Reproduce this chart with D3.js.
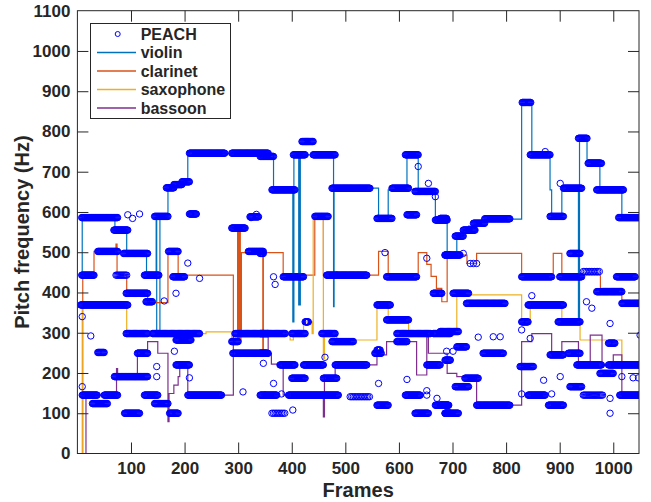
<!DOCTYPE html>
<html><head><meta charset="utf-8">
<script src="https://cdn.jsdelivr.net/npm/d3@7"></script>
<style>
body{margin:0;background:#fff}
text{font-family:"Liberation Sans",Arial,Helvetica,sans-serif;font-weight:bold;fill:#262626}
</style>
</head><body><svg id="c" width="651" height="502"></svg>
<script>
// ---------- data ----------
const xTickValues = [100,200,300,400,500,600,700,800,900,1000];
const yTickValues = [0,100,200,300,400,500,600,700,800,900,1000,1100];
const seriesNames = ["PEACH","violin","clarinet","saxophone","bassoon"];

// step tracks: [frame where value starts, Hz]
const violin = [[5,443],[9,586],[70,555],[92,497],[129,443],[147,589],[148,298],[154,589],[169,655],[175,663],[185,670],[195,675],[206,750],[250,745],[300,742],[366,655],[402,327],[404,742],[413,369],[414,742],[415,369],[416,742],[478,365],[479,659],[562,584],[580,655],[615,742],[636,651],[668,584],[690,493],[708,540],[720,555],[730,565],[742,575],[760,582],[829,870],[848,742],[882,655],[885,589],[904,660],[935,327],[937,783],[951,730],[975,655],[1016,586],[1053,586]];
const clarinet = [[0,0],[10,443],[31,502],[72,520],[74,443],[92,398],[131,375],[169,497],[188,443],[291,282],[299,564],[300,282],[301,564],[302,282],[303,564],[304,282],[306,499],[346,257],[347,499],[384,443],[443,589],[459,443],[562,502],[580,443],[636,499],[652,470],[660,440],[670,410],[680,377],[690,493],[727,472],[745,497],[829,443],[888,497],[904,443],[976,410],[1016,377],[1053,377]];
const saxophone = [[0,0],[9,373],[92,298],[240,302],[288,282],[306,298],[397,282],[403,298],[422,327],[438,298],[440,589],[459,236],[461,298],[484,282],[559,373],[580,332],[618,298],[677,307],[708,394],[829,332],[845,368],[904,327],[938,282],[1016,220],[1053,220]];
const bassoon = [[0,0],[16,145],[73,211],[75,191],[112,257],[131,278],[150,249],[169,79],[171,149],[180,170],[188,191],[191,215],[206,145],[291,290],[356,249],[362,222],[384,145],[459,91],[461,191],[481,220],[559,245],[577,278],[633,195],[652,290],[655,249],[690,199],[708,191],[745,120],[829,278],[848,298],[885,245],[904,278],[935,216],[957,294],[979,220],[1000,245],[1016,145],[1053,145]];

// PEACH estimates: runs [firstFrame, lastFrame, Hz, frameStep]
const peachRuns = [
[8,75,586],[68,94,555],[8,31,443],[38,75,502],[72,92,443,2],[86,131,497],[125,152,443],[144,169,589],
[166,180,660],[180,195,668],[195,209,675],[209,275,746],[288,356,746],[91,131,398],[128,140,377],
[170,188,502],[178,200,439],[6,94,369],[91,131,298],[140,228,298],[184,212,282],[294,356,298],
[112,131,249],[290,356,249],[288,300,278],[184,209,220],[69,131,191],[9,37,145],[50,75,145],
[125,150,145],[206,269,145],[28,56,124],[144,169,124],[88,116,100],[172,188,100],[288,313,560],
[322,338,588],[209,222,595],[319,347,502],[38,50,251],
[341,366,738],[363,406,655],[403,425,742],[419,440,775],[440,481,742],[475,546,659],[559,587,584],
[587,618,659],[612,636,742],[630,668,651],[615,633,593],[668,690,580],[686,696,493],[443,468,589],
[384,422,439],[465,540,443],[577,633,439],[341,347,497],[664,680,398],[341,388,298],[400,425,298],
[456,481,298],[425,431,327],[475,515,278],[577,618,332],[559,584,369],[596,659,298],[664,696,298],
[596,615,278],[341,353,249],[378,406,220],[422,459,220],[481,540,220],[555,567,249],[652,677,220],
[400,425,187],[459,484,187],[341,372,145],[394,487,145],[509,546,141,3],[612,640,145],[559,580,120],
[668,693,120],[363,388,100,3],[630,655,100],[686,696,100],[559,565,257],[686,696,232],
[677,689,584],[686,714,493],[705,720,540],[720,742,555],[739,760,572],[760,807,583],[701,730,398],
[726,798,373],[677,711,303],[708,726,265],[757,795,249],[723,748,187],[705,730,166],[677,692,120],
[745,807,120],[686,711,100],[935,951,783],[830,846,872],[845,882,742],[907,941,659],[882,907,589],
[953,978,721],[969,1019,655],[1010,1056,586],[919,938,497],[829,885,439],[900,941,439],[1006,1041,439],
[944,975,452,3],[969,1016,402],[1016,1056,373],[841,907,369],[829,841,327],[897,938,327],[932,978,220],
[991,1056,220],[991,1003,274],[975,1000,199],[882,907,245],[916,938,249],[826,851,216],[841,873,145],
[1012,1056,145],[919,941,166],[944,981,145,2],[879,907,120]
];
// isolated PEACH estimates: [frame, Hz]
const peachSingles = [
[206,473],[184,398],[228,435],[148,216],[148,191],[181,254],[209,188],[25,292],[9,340],[9,166],[309,153],
[350,145],[347,224],[162,379],[94,593],[103,584],[116,595],[324,586],[334,594],
[366,439],[369,420],[366,174],[381,148],[402,108],[428,327],[462,239],[562,174],[615,184],[652,156],
[671,137],[652,145],[484,443],[636,713],[655,671],[668,638],[574,499],[652,485],
[748,289],[776,290],[789,290],[829,307],[845,286],[848,392],[870,182],[901,191],[950,377],[960,361],
[994,323],[994,100],[1050,294],[1016,191],[1037,188],[1047,188],[829,148],[885,148],[994,137],
[689,254],[701,254],[901,671],[720,497],[733,472],[739,472],[745,472],[873,750]
];

// ---------- drawing ----------
const L = 77.4, R = 639, T = 10.7, B = 453.5;
const svg = d3.select("#c");
const x = d3.scaleLinear().domain([0,1048]).range([L,R]);
const y = d3.scaleLinear().domain([0,1100]).range([B,T]);
const axisCol = "#262626";
const colors = {violin:"#0072BD", clarinet:"#D95319", saxophone:"#EDB120", bassoon:"#7E2F8E", PEACH:"#0000FF"};
const fmt = d3.format("d");

svg.append("defs").append("clipPath").attr("id","clip")
  .append("rect").attr("x",L).attr("y",T).attr("width",R-L).attr("height",B-T);

const plot = svg.append("g").attr("clip-path","url(#clip)");

const line = d3.line().x(d=>x(d[0])).y(d=>y(d[1])).curve(d3.curveStepAfter);
[["violin",violin],["clarinet",clarinet],["saxophone",saxophone],["bassoon",bassoon]].forEach(([n,d])=>{
  plot.append("path").datum(d).attr("d",line).attr("fill","none")
    .attr("stroke",colors[n]).attr("stroke-width",1.2);
});

const peach = [];
peachRuns.forEach(r=>{ const s = r[3]||1; for(let f=r[0]; f<=r[1]; f+=s) peach.push([f,r[2]]); });
peachSingles.forEach(p=>peach.push(p));
plot.append("g").selectAll("circle").data(peach).join("circle")
  .attr("cx",d=>x(d[0])).attr("cy",d=>y(d[1])).attr("r",3.2)
  .attr("fill","none").attr("stroke",colors.PEACH).attr("stroke-width",1);

// axes (MATLAB box style, ticks inward)
const tl = 11;
svg.append("rect").attr("x",L).attr("y",T).attr("width",R-L).attr("height",B-T)
  .attr("fill","none").attr("stroke",axisCol).attr("stroke-width",1);
const gx = svg.append("g").attr("transform",`translate(0,${B})`)
  .call(d3.axisBottom(x).tickValues(xTickValues).tickFormat(fmt).tickSizeInner(-tl).tickSizeOuter(0));
const gxt = svg.append("g").attr("transform",`translate(0,${T})`)
  .call(d3.axisTop(x).tickValues(xTickValues).tickSizeInner(-tl).tickSizeOuter(0).tickFormat(""));
const gy = svg.append("g").attr("transform",`translate(${L},0)`)
  .call(d3.axisLeft(y).tickValues(yTickValues).tickFormat(fmt).tickSizeInner(-tl).tickSizeOuter(0).tickPadding(7));
const gyr = svg.append("g").attr("transform",`translate(${R},0)`)
  .call(d3.axisRight(y).tickValues(yTickValues).tickSizeInner(-tl).tickSizeOuter(0).tickFormat(""));
[gx,gxt,gy,gyr].forEach(g=>{
  g.select(".domain").remove();
  g.selectAll(".tick line").attr("stroke",axisCol);
  g.selectAll("text").attr("fill",axisCol).style("font-size","17px").style("font-family",'"Liberation Sans",Arial,sans-serif').style("font-weight","bold");
});
gy.selectAll(".tick").filter(d=>d===0||d===1100).select("line").remove();
gyr.selectAll(".tick").filter(d=>d===0||d===1100).select("line").remove();
gx.selectAll("text").attr("y",8).attr("dy","0.71em");

svg.append("text").attr("x",(L+R)/2).attr("y",496.5).attr("text-anchor","middle")
  .style("font-size","20px").text("Frames");
svg.append("text").attr("transform",`translate(29,${(T+B)/2}) rotate(-90)`).attr("text-anchor","middle")
  .style("font-size","20px").text("Pitch frequency (Hz)");

// legend
const lg = svg.append("g");
lg.append("rect").attr("x",90.5).attr("y",23.5).attr("width",140).attr("height",95)
  .attr("fill","#fff").attr("stroke",axisCol).attr("stroke-width",1);
const rowY = [34,52.5,71,89.5,108];
seriesNames.forEach((n,i)=>{
  if(n==="PEACH"){
    lg.append("circle").attr("cx",117.7).attr("cy",rowY[i]).attr("r",2.5)
      .attr("fill","none").attr("stroke",colors.PEACH).attr("stroke-width",1);
  } else {
    lg.append("line").attr("x1",97).attr("x2",136).attr("y1",rowY[i]).attr("y2",rowY[i])
      .attr("stroke",colors[n]).attr("stroke-width",1.6);
  }
  lg.append("text").attr("x",140.7).attr("y",rowY[i]).attr("dy","0.36em")
    .style("font-size","16px").text(n);
});
</script>
</body></html>
